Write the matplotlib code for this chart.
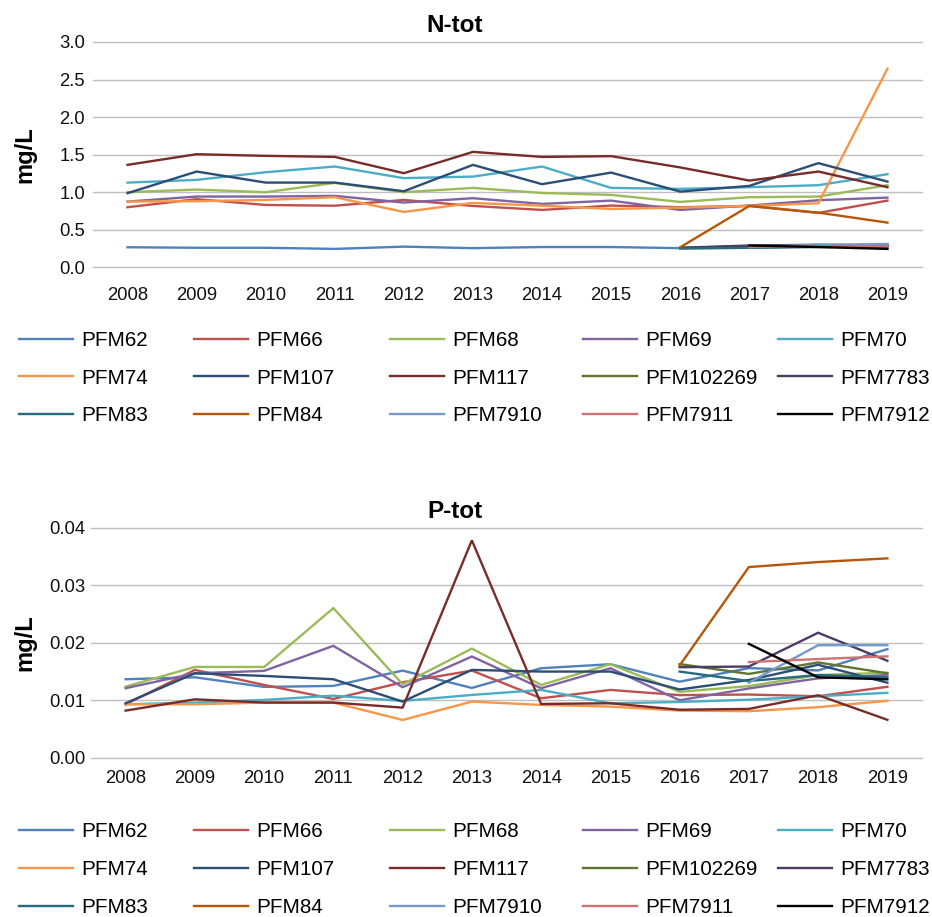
import numpy as np
import matplotlib
matplotlib.use("Agg")
import matplotlib.pyplot as plt

plt.rcParams['font.family'] = ['Liberation Sans', 'DejaVu Sans']

nan = np.nan
years = ["2008", "2009", "2010", "2011", "2012", "2013", "2014", "2015", "2016", "2017", "2018", "2019"]
stations = ["PFM62", "PFM66", "PFM68", "PFM69", "PFM70",
            "PFM74", "PFM107", "PFM117", "PFM102269", "PFM7783",
            "PFM83", "PFM84", "PFM7910", "PFM7911", "PFM7912"]
colors = ["#4F81BD", "#C0504D", "#9BBB59", "#8064A2", "#4BACC6",
          "#F79646", "#2C4D75", "#772C2A", "#5F7530", "#4D3B62",
          "#276A7C", "#B65708", "#729ACA", "#CD7371", "#000000"]

# N-tot (mg/L)
n_pfm62 = [0.267, 0.26, 0.26, 0.245, 0.275, 0.255, 0.27, 0.27, 0.255, 0.26, 0.28, 0.30]
n_pfm66 = [0.80, 0.907, 0.83, 0.82, 0.897, 0.817, 0.764, 0.822, 0.80, 0.817, 0.724, 0.888]
n_pfm68 = [1.0, 1.035, 1.0, 1.124, 1.0, 1.057, 0.99, 0.964, 0.871, 0.933, 0.942, 1.093]
n_pfm69 = [0.875, 0.942, 0.942, 0.951, 0.862, 0.92, 0.844, 0.888, 0.764, 0.822, 0.893, 0.928]
n_pfm70 = [1.128, 1.164, 1.266, 1.342, 1.187, 1.208, 1.342, 1.057, 1.044, 1.067, 1.093, 1.24]
n_pfm74 = [0.875, 0.88, 0.897, 0.933, 0.737, 0.857, 0.82, 0.777, 0.795, 0.817, 0.853, 2.644]
n_pfm107 = [0.987, 1.275, 1.128, 1.128, 1.013, 1.364, 1.107, 1.261, 1.008, 1.084, 1.387, 1.141]
n_pfm117 = [1.364, 1.506, 1.484, 1.47, 1.253, 1.537, 1.47, 1.48, 1.33, 1.155, 1.275, 1.067]
n_pfm102269 = [nan] * 8 + [0.26, 0.28, 0.29, 0.29]
n_pfm7783 = [nan] * 8 + [0.26, 0.29, 0.30, 0.29]
n_pfm83 = [nan] * 8 + [0.25, 0.26, 0.27, 0.27]
n_pfm84 = [nan] * 8 + [0.267, 0.817, 0.728, 0.595]
n_pfm7910 = [nan] * 9 + [0.27, 0.30, 0.31]
n_pfm7911 = [nan] * 9 + [0.27, 0.28, 0.28]
n_pfm7912 = [nan] * 9 + [0.29, 0.27, 0.245]

# P-tot (mg/L)
p_pfm62 = [0.01366, 0.0140, 0.01233, 0.0125, 0.01517, 0.01215, 0.01558, 0.01628, 0.01324, 0.0156, 0.0152, 0.0189]
p_pfm66 = [0.0093, 0.01529, 0.01267, 0.01023, 0.01314, 0.01517, 0.01035, 0.0118, 0.0109, 0.0110, 0.0107, 0.01235]
p_pfm68 = [0.01238, 0.01581, 0.0158, 0.02605, 0.01279, 0.019, 0.01267, 0.01628, 0.01147, 0.01247, 0.0144, 0.0148]
p_pfm69 = [0.0121, 0.0147, 0.01512, 0.01948, 0.01227, 0.01762, 0.0121, 0.01558, 0.0100, 0.01206, 0.01382, 0.0144]
p_pfm70 = [0.0093, 0.0096, 0.01006, 0.01081, 0.00988, 0.01093, 0.0118, 0.00948, 0.0097, 0.0101, 0.0107, 0.0113]
p_pfm74 = [0.0093, 0.0093, 0.0096, 0.0096, 0.00657, 0.00977, 0.00919, 0.0089, 0.0082, 0.0081, 0.0088, 0.0099]
p_pfm107 = [0.00948, 0.0147, 0.01424, 0.01366, 0.00977, 0.01529, 0.015, 0.015, 0.01188, 0.01353, 0.01618, 0.01306]
p_pfm117 = [0.0082, 0.01017, 0.0096, 0.0096, 0.00872, 0.03785, 0.00936, 0.00948, 0.00835, 0.0085, 0.01088, 0.0066]
p_pfm102269 = [nan] * 8 + [0.0163, 0.01459, 0.01659, 0.0147]
p_pfm7783 = [nan] * 8 + [0.01576, 0.01588, 0.02176, 0.01688]
p_pfm83 = [nan] * 8 + [0.0150, 0.01335, 0.0144, 0.0140]
p_pfm84 = [nan] * 8 + [0.01605, 0.0332, 0.03407, 0.03471]
p_pfm7910 = [nan] * 9 + [0.01306, 0.01959, 0.01959]
p_pfm7911 = [nan] * 9 + [0.01665, 0.01718, 0.01765]
p_pfm7912 = [nan] * 9 + [0.01982, 0.0140, 0.01365]

n_series = [n_pfm62, n_pfm66, n_pfm68, n_pfm69, n_pfm70, n_pfm74, n_pfm107, n_pfm117,
            n_pfm102269, n_pfm7783, n_pfm83, n_pfm84, n_pfm7910, n_pfm7911, n_pfm7912]
p_series = [p_pfm62, p_pfm66, p_pfm68, p_pfm69, p_pfm70, p_pfm74, p_pfm107, p_pfm117,
            p_pfm102269, p_pfm7783, p_pfm83, p_pfm84, p_pfm7910, p_pfm7911, p_pfm7912]

W, H = 932, 917
fig = plt.figure(figsize=(W / 100, H / 100), dpi=100)


def fx(px):
    return px / W


def fy(py):
    return 1 - py / H


def make_panel(rect, series, title, title_y, ylim, yticks, yfmt, xpad, ypad,
               legend_rows_y, labelspacing):
    ax = fig.add_axes(rect)
    x = np.arange(len(years))
    handles = []
    for name, vals, c in zip(stations, series, colors):
        h, = ax.plot(x, np.array(vals, dtype=float), color=c, lw=1.7,
                     solid_joinstyle='miter', label=name)
        handles.append(h)
    ax.set_xlim(-0.5, len(years) - 0.5)
    ax.set_ylim(*ylim)
    ax.set_yticks(yticks)
    ax.set_yticklabels([yfmt.format(v) for v in yticks])
    ax.set_xticks(x)
    ax.set_xticklabels(years)
    ax.grid(axis='y', color='#BFBFBF', lw=1.0)
    ax.set_axisbelow(True)
    for s in ax.spines.values():
        s.set_visible(False)
    ax.tick_params(axis='both', length=0, labelsize=13.3, colors='#111111')
    ax.tick_params(axis='x', pad=xpad)
    ax.tick_params(axis='y', pad=ypad)
    for gl in ax.get_ygridlines():
        gl.set_clip_on(False)
    # title and y label
    fig.text(fx(455), fy(title_y), title, ha='center', va='baseline',
             fontsize=17.5, fontweight='bold')
    y0, y1 = rect[1], rect[1] + rect[3]
    fig.text(fx(25), (y0 + y1) / 2, "mg/L", rotation=90, ha='center', va='center',
             fontsize=17, fontweight='bold')
    # legend: five columns of three entries
    col_x = [19, 194, 390, 583, 778]
    for ci in range(5):
        idx = [ci, ci + 5, ci + 10]
        fig.legend([handles[i] for i in idx], [stations[i] for i in idx],
                   loc='center left', bbox_to_anchor=(fx(col_x[ci]), fy(legend_rows_y)),
                   frameon=False, borderpad=0, borderaxespad=0, handlelength=2.6,
                   handletextpad=0.42, labelspacing=labelspacing, fontsize=14.9)
    return ax


make_panel([fx(93), fy(267.3), fx(829), (267.3 - 42) / H], n_series, "N-tot", 31.7,
           (0, 3.0), [0.0, 0.5, 1.0, 1.5, 2.0, 2.5, 3.0], "{:.1f}", 14.3, 5.8, 378.0, 0.9)
make_panel([fx(91), fy(757.7), fx(831), (757.7 - 528) / H], p_series, "P-tot", 518.5,
           (0, 0.04), [0.0, 0.01, 0.02, 0.03, 0.04], "{:.2f}", 8.7, 4.3, 869.5, 0.93)

fig.savefig("out.png", dpi=100)
